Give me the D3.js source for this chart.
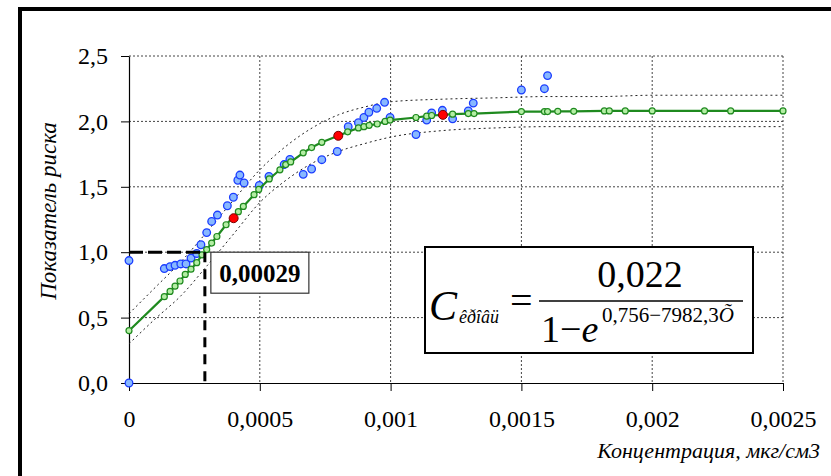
<!DOCTYPE html>
<html>
<head>
<meta charset="utf-8">
<script src="https://cdn.jsdelivr.net/npm/d3@7"></script>
<style>
  body { margin: 0; background: #fff; }
  text { font-family: "Liberation Serif", "Times New Roman", serif; }
</style>
</head>
<body>
<div id="chart"></div>
<script>
// axis ticks
let xTicks = [0, 0.0005, 0.001, 0.0015, 0.002, 0.0025];
let xTickLabels = ["0", "0,0005", "0,001", "0,0015", "0,002", "0,0025"];
let yTicks = [0, 0.5, 1.0, 1.5, 2.0, 2.5];
let yTickLabels = ["0,0", "0,5", "1,0", "1,5", "2,0", "2,5"];

// observed values (blue)
let obsX = [0, 0, 0.000135, 0.000157, 0.000176, 0.000198, 0.000218, 0.000237, 0.000259, 0.000275,
    0.000297, 0.000316, 0.000338, 0.000376, 0.000399, 0.000416, 0.000424, 0.00044, 0.000498, 0.000535,
    0.000593, 0.000615, 0.000666, 0.000698, 0.000737, 0.000796, 0.000838, 0.000877, 0.000898, 0.000917,
    0.000947, 0.000977, 0.000998, 0.001097, 0.001138, 0.001157, 0.001198, 0.001237, 0.001297, 0.001316,
    0.0015, 0.001588, 0.0016];
let obsY = [0, 0.936, 0.875, 0.89, 0.90, 0.91, 0.91, 0.955, 0.99, 1.057,
    1.15, 1.235, 1.284, 1.355, 1.42, 1.55, 1.59, 1.53, 1.51, 1.58,
    1.67, 1.71, 1.595, 1.636, 1.707, 1.77, 1.96, 1.99, 2.03, 2.07,
    2.10, 2.146, 2.03, 1.90, 2.01, 2.065, 2.085, 2.02, 2.08, 2.14,
    2.24, 2.25, 2.35];

// fitted values (green)
let fitX = [0, 0.000135, 0.000157, 0.000176, 0.000195, 0.000215, 0.000237, 0.000259, 0.000279, 0.000297,
    0.000316, 0.000336, 0.000371, 0.000418, 0.000437, 0.000478, 0.000496, 0.000536, 0.000577, 0.000599,
    0.000618, 0.000666, 0.000698, 0.000737, 0.0008, 0.000836, 0.000877, 0.000898, 0.000918, 0.000949,
    0.000979, 0.000998, 0.001097, 0.001138, 0.001157, 0.0012, 0.001237, 0.001297, 0.001319, 0.0015,
    0.001588, 0.0016, 0.001639, 0.0017, 0.001817, 0.001836, 0.001897, 0.002, 0.0022, 0.0023, 0.0025];
let fitY = [0.40, 0.66, 0.70, 0.74, 0.78, 0.83, 0.87, 0.92, 0.98, 1.02,
    1.07, 1.12, 1.21, 1.31, 1.35, 1.44, 1.48, 1.56, 1.63, 1.67,
    1.69, 1.76, 1.80, 1.84, 1.89, 1.92, 1.95, 1.96, 1.97, 1.98,
    2.00, 2.01, 2.03, 2.04, 2.045, 2.05, 2.055, 2.06, 2.06, 2.075,
    2.075, 2.075, 2.077, 2.077, 2.08, 2.08, 2.08, 2.08, 2.08, 2.08, 2.08];

// highlighted points (red)
let redX = [0.0004, 0.0008, 0.0012];
let redY = [1.26, 1.89, 2.05];

// confidence band
let bandX = [0, 0.0001, 0.0002, 0.0003, 0.0004, 0.0005, 0.0006, 0.0007, 0.0008, 0.0009,
    0.001, 0.0012, 0.0014, 0.0016, 0.0018, 0.002, 0.0025];
let bandUpper = [0.53, 0.73, 0.93, 1.16, 1.40, 1.63, 1.81, 1.95, 2.05, 2.11,
    2.15, 2.17, 2.18, 2.19, 2.19, 2.20, 2.20];
let bandLower = [0.30, 0.49, 0.67, 0.90, 1.14, 1.38, 1.55, 1.68, 1.77, 1.83,
    1.88, 1.93, 1.95, 1.96, 1.96, 1.96, 1.96];

// threshold marker
let markX = 0.00029;
let markY = 1.0;
let markLabel = "0,00029";

let W = 831, H = 476;
let margin = {top: 56, right: 48, bottom: 93, left: 129},
    width = W - margin.left - margin.right,
    height = H - margin.top - margin.bottom;

let svg = d3.select("#chart")
    .append("svg")
    .attr("width", W)
    .attr("height", H);

// outer frame (runs off the right and bottom edges)
svg.append("rect")
    .attr("x", 20).attr("y", 9)
    .attr("width", W).attr("height", H)
    .attr("fill", "none")
    .attr("stroke", "#000")
    .attr("stroke-width", 4);

let g = svg.append("g")
    .attr("transform", "translate(" + margin.left + "," + margin.top + ")");

let x = d3.scaleLinear().domain([0, 0.0025]).range([0, width]);
let y = d3.scaleLinear().domain([0, 2.5]).range([height, 0]);

// grid
g.selectAll(".hgrid")
    .data(yTicks.slice(1))
    .enter().append("line")
    .attr("x1", 0).attr("x2", width)
    .attr("y1", d => y(d)).attr("y2", d => y(d))
    .attr("stroke", "#444")
    .attr("stroke-width", 1)
    .attr("stroke-dasharray", "2,2");
g.selectAll(".vgrid")
    .data(xTicks.slice(1))
    .enter().append("line")
    .attr("x1", d => x(d)).attr("x2", d => x(d))
    .attr("y1", 0).attr("y2", height)
    .attr("stroke", "#444")
    .attr("stroke-width", 1)
    .attr("stroke-dasharray", "2,2");

// axes
let xAxis = g.append("g")
    .attr("transform", "translate(0," + height + ")")
    .call(d3.axisBottom(x).tickValues(xTicks)
        .tickFormat((d, i) => xTickLabels[i])
        .tickSize(8).tickSizeOuter(0).tickPadding(19));
let yAxis = g.append("g")
    .call(d3.axisLeft(y).tickValues(yTicks)
        .tickFormat((d, i) => yTickLabels[i])
        .tickSize(8).tickSizeOuter(0).tickPadding(13));
[xAxis, yAxis].forEach(a => {
    a.attr("font-family", null);
    a.selectAll("text")
        .style("font-family", "'Liberation Serif', serif")
        .style("font-size", "24px")
        .attr("fill", "#000");
    a.selectAll("line").attr("stroke", "#000");
    a.select(".domain").attr("stroke", "#000").attr("stroke-width", 1.2);
});

// axis titles
svg.append("text")
    .attr("transform", "translate(56,211) rotate(-90)")
    .attr("text-anchor", "middle")
    .style("font-size", "23px")
    .style("font-style", "italic")
    .text("Показатель риска");
svg.append("text")
    .attr("x", 820).attr("y", 458)
    .attr("text-anchor", "end")
    .style("font-size", "22px")
    .style("font-style", "italic")
    .text("Концентрация, мкг/см3");

// confidence band
let band = bandX.map((d, i) => ({x: d, lo: bandLower[i], hi: bandUpper[i]}));
["hi", "lo"].forEach(k => {
    g.append("path")
        .datum(band)
        .attr("fill", "none")
        .attr("stroke", "#222")
        .attr("stroke-width", 1)
        .attr("stroke-dasharray", "2,3")
        .attr("d", d3.line().curve(d3.curveMonotoneX)
            .x(d => x(d.x))
            .y(d => y(d[k])));
});

// observed points
let obs = obsX.map((d, i) => ({x: d, y: obsY[i]}));
g.selectAll(".obs")
    .data(obs)
    .enter().append("circle")
    .attr("cx", d => x(d.x))
    .attr("cy", d => y(d.y))
    .attr("r", 3.8)
    .attr("fill", "#88b8ff")
    .attr("stroke", "#1a3cff")
    .attr("stroke-width", 1.3);

// fitted line
let fit = fitX.map((d, i) => ({x: d, y: fitY[i]}));
g.append("path")
    .datum(fit)
    .attr("fill", "none")
    .attr("stroke", "#1f8a1f")
    .attr("stroke-width", 2.2)
    .attr("d", d3.line().x(d => x(d.x)).y(d => y(d.y)));
g.selectAll(".fit")
    .data(fit)
    .enter().append("circle")
    .attr("cx", d => x(d.x))
    .attr("cy", d => y(d.y))
    .attr("r", 3)
    .attr("fill", "#b4eea4")
    .attr("stroke", "#1f8a1f")
    .attr("stroke-width", 1.2);

// red points
let red = redX.map((d, i) => ({x: d, y: redY[i]}));
g.selectAll(".red")
    .data(red)
    .enter().append("circle")
    .attr("cx", d => x(d.x))
    .attr("cy", d => y(d.y))
    .attr("r", 4.5)
    .attr("fill", "#ff0000")
    .attr("stroke", "#7a0000")
    .attr("stroke-width", 1);

// threshold dashed lines
g.append("line")
    .attr("x1", x(0)).attr("x2", x(markX))
    .attr("y1", y(markY)).attr("y2", y(markY))
    .attr("stroke", "#000")
    .attr("stroke-width", 3)
    .attr("stroke-dasharray", "14,5");
g.append("line")
    .attr("x1", x(markX)).attr("x2", x(markX))
    .attr("y1", y(markY)).attr("y2", y(0))
    .attr("stroke", "#000")
    .attr("stroke-width", 3)
    .attr("stroke-dasharray", "10,7");

// threshold label
let lx = x(markX) + margin.left + 6, ly = y(markY) + margin.top;
svg.append("rect")
    .attr("x", lx).attr("y", ly)
    .attr("width", 98).attr("height", 41)
    .attr("fill", "#fff")
    .attr("stroke", "#333")
    .attr("stroke-width", 1.2);
svg.append("text")
    .attr("x", lx + 49).attr("y", ly + 30)
    .attr("text-anchor", "middle")
    .style("font-size", "25px")
    .style("font-weight", "bold")
    .text(markLabel);

// formula box
let fb = svg.append("g");
fb.append("rect")
    .attr("x", 425).attr("y", 247)
    .attr("width", 328).attr("height", 106)
    .attr("fill", "#fff")
    .attr("stroke", "#000")
    .attr("stroke-width", 2);
fb.append("text")
    .attr("x", 429).attr("y", 320)
    .style("font-size", "42px")
    .style("font-style", "italic")
    .text("C");
fb.append("text")
    .attr("x", 459).attr("y", 323)
    .style("font-size", "18px")
    .style("font-style", "italic")
    .text("êðîâü");
fb.append("text")
    .attr("x", 510).attr("y", 314)
    .style("font-size", "40px")
    .text("=");
fb.append("line")
    .attr("x1", 539).attr("x2", 743)
    .attr("y1", 301).attr("y2", 301)
    .attr("stroke", "#000")
    .attr("stroke-width", 1.5);
fb.append("text")
    .attr("x", 640).attr("y", 287)
    .attr("text-anchor", "middle")
    .style("font-size", "38px")
    .text("0,022");
let den = fb.append("text")
    .attr("x", 541).attr("y", 342)
    .style("font-size", "38px");
den.append("tspan").text("1−");
den.append("tspan").style("font-style", "italic").text("e");
let ex = fb.append("text")
    .attr("x", 602).attr("y", 322)
    .style("font-size", "21px");
ex.append("tspan").text("0,756−7982,3");
ex.append("tspan").style("font-style", "italic").text("Õ");
</script>
</body>
</html>
